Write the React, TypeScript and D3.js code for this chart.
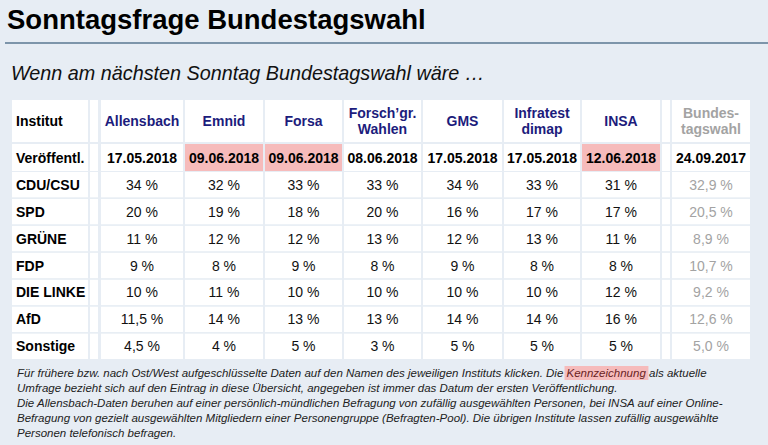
import React, { useEffect, useRef } from "react";
import * as d3 from "d3";

const TITLE = "Sonntagsfrage Bundestagswahl";
const SUBTITLE = "Wenn am nächsten Sonntag Bundestagswahl wäre …";

const institutes = ["Allensbach", "Emnid", "Forsa", "Forsch’gr.|Wahlen", "GMS", "Infratest|dimap", "INSA"];
const pubDates = ["17.05.2018", "09.06.2018", "09.06.2018", "08.06.2018", "17.05.2018", "17.05.2018", "12.06.2018"];
const isCurrent = [false, true, true, false, false, false, true];
const parties = ["CDU/CSU", "SPD", "GRÜNE", "FDP", "DIE LINKE", "AfD", "Sonstige"];

const allensbach = [34, 20, 11, 9, 10, 11.5, 4.5];
const emnid = [32, 19, 12, 8, 11, 14, 4];
const forsa = [33, 18, 12, 9, 10, 13, 5];
const forschungsgruppe = [33, 20, 13, 8, 10, 13, 3];
const gms = [34, 16, 12, 9, 10, 14, 5];
const infratest = [33, 17, 13, 8, 10, 14, 5];
const insa = [31, 17, 11, 8, 12, 16, 5];
const pollValues = [allensbach, emnid, forsa, forschungsgruppe, gms, infratest, insa];

const electionLabel = "Bundes-|tagswahl";
const electionDate = "24.09.2017";
const election2017 = [32.9, 20.5, 8.9, 10.7, 9.2, 12.6, 5.0];

const footnoteLines = [
  ["Für frühere bzw. nach Ost/West aufgeschlüsselte Daten auf den Namen des jeweiligen Instituts klicken. Die ", "Kennzeichnung", " als aktuelle"],
  ["Umfrage bezieht sich auf den Eintrag in diese Übersicht, angegeben ist immer das Datum der ersten Veröffentlichung."],
  ["Die Allensbach-Daten beruhen auf einer persönlich-mündlichen Befragung von zufällig ausgewählten Personen, bei INSA auf einer Online-"],
  ["Befragung von gezielt ausgewählten Mitgliedern einer Personengruppe (Befragten-Pool). Die übrigen Institute lassen zufällig ausgewählte"],
  ["Personen telefonisch befragen."],
];

const W = 768;
const H = 445;
const BG = "#e7edf4";
const NAVY = "#1c1c7c";
const PINK = "#f6bbbb";
const GREY = "#a3a3a3";
const FONT = "'Liberation Sans', Arial, Helvetica, sans-serif";

// column layout (widths), gaps between
const colWidths = [76, 8, 82, 78, 77, 77, 79, 76, 78, 8, 78];
const colGaps = [0, 2, 3, 2, 2, 2, 2, 2, 2, 2, 2];
const tableLeft = 12;

const fmtPoll = (v: number) => String(v).replace(".", ",") + " %";
const fmtElection = (v: number) => v.toFixed(1).replace(".", ",") + " %";

export default function App() {
  const ref = useRef<SVGSVGElement>(null);

  useEffect(() => {
    const svg = d3.select(ref.current);
    svg.selectAll("*").remove();

    svg.append("rect").attr("width", W).attr("height", H).attr("fill", BG);

    svg.append("text").text(TITLE)
      .attr("x", 7).attr("y", 29)
      .attr("font-family", FONT).attr("font-weight", "bold").attr("font-size", 27.5)
      .attr("fill", "#000");

    svg.append("line").attr("x1", 5).attr("x2", W).attr("y1", 43).attr("y2", 43)
      .attr("stroke", "#7d95aa").attr("stroke-width", 2);

    svg.append("text").text(SUBTITLE)
      .attr("x", 11).attr("y", 80)
      .attr("font-family", FONT).attr("font-style", "italic").attr("font-size", 19.8)
      .attr("fill", "#111");

    // columns
    const lefts: number[] = [];
    let cx = tableLeft;
    colWidths.forEach((w, i) => {
      cx += colGaps[i];
      lefts.push(cx);
      cx += w;
    });
    const colCenter = (i: number) => lefts[i] + colWidths[i] / 2;

    // rows
    const headerTop = 100, headerH = 42;
    const dateTop = 144, dateH = 27;
    const y = d3.scaleBand<string>().domain(parties).range([172, 359]).paddingInner(0.06).paddingOuter(0);

    const g = svg.append("g").attr("font-family", FONT).attr("font-size", 14);

    const rowsSpec: { top: number; h: number }[] = [
      { top: headerTop, h: headerH },
      { top: dateTop, h: dateH },
      ...parties.map((p) => ({ top: y(p)!, h: y.bandwidth() })),
    ];

    // white cells
    rowsSpec.forEach((r, ri) => {
      colWidths.forEach((w, ci) => {
        let fill = "#fff";
        const inst = ci - 2;
        if (ri === 1 && inst >= 0 && inst < institutes.length && isCurrent[inst]) fill = PINK;
        g.append("rect").attr("x", lefts[ci]).attr("y", r.top).attr("width", w).attr("height", r.h).attr("fill", fill);
      });
    });

    const multiLine = (label: string, xc: number, top: number, h: number, color: string) => {
      const parts = label.split("|");
      const lh = 16;
      const baseY = top + h / 2 + 5 - ((parts.length - 1) * lh) / 2;
      const t = g.append("text").attr("text-anchor", "middle").attr("font-weight", "bold").attr("fill", color);
      parts.forEach((p, i) => {
        t.append("tspan").attr("x", xc).attr("y", baseY + i * lh).text(p);
      });
    };

    // header row
    g.append("text").text("Institut").attr("x", lefts[0] + 4).attr("y", headerTop + headerH / 2 + 5)
      .attr("font-weight", "bold").attr("fill", "#000");
    institutes.forEach((name, i) => multiLine(name, colCenter(i + 2), headerTop, headerH, NAVY));
    multiLine(electionLabel, colCenter(10), headerTop, headerH, GREY);

    // date row
    g.append("text").text("Veröffentl.").attr("x", lefts[0] + 4).attr("y", dateTop + dateH / 2 + 5)
      .attr("font-weight", "bold").attr("fill", "#000");
    pubDates.forEach((d, i) => {
      g.append("text").text(d).attr("x", colCenter(i + 2)).attr("y", dateTop + dateH / 2 + 5)
        .attr("text-anchor", "middle").attr("font-weight", "bold").attr("fill", "#000");
    });
    g.append("text").text(electionDate).attr("x", colCenter(10)).attr("y", dateTop + dateH / 2 + 5)
      .attr("text-anchor", "middle").attr("font-weight", "bold").attr("fill", "#000");

    // party rows
    parties.forEach((p, pi) => {
      const yc = y(p)! + y.bandwidth() / 2 + 5;
      g.append("text").text(p).attr("x", lefts[0] + 4).attr("y", yc)
        .attr("font-weight", "bold").attr("fill", "#000");
      pollValues.forEach((vals, ii) => {
        g.append("text").text(fmtPoll(vals[pi])).attr("x", colCenter(ii + 2)).attr("y", yc)
          .attr("text-anchor", "middle").attr("fill", "#111");
      });
      g.append("text").text(fmtElection(election2017[pi])).attr("x", colCenter(10)).attr("y", yc)
        .attr("text-anchor", "middle").attr("fill", GREY);
    });

    // footnote
    const fn = svg.append("g").attr("font-family", FONT).attr("font-style", "italic").attr("font-size", 11.5).attr("fill", "#222");
    footnoteLines.forEach((parts, li) => {
      const ty = 377 + li * 15;
      if (parts.length === 1) {
        fn.append("text").attr("x", 17).attr("y", ty).text(parts[0]);
      } else {
        const hl = fn.append("rect").attr("fill", PINK);
        const t = fn.append("text").attr("x", 17).attr("y", ty);
        t.append("tspan").text(parts[0]);
        const mid = t.append("tspan").text(parts[1]).attr("fill", "#6a1f1f");
        t.append("tspan").text(parts[2]);
        const node = mid.node() as SVGTSpanElement;
        try {
          const bb = node.getBBox();
          hl.attr("x", bb.x - 2).attr("y", ty - 11).attr("width", bb.width + 4).attr("height", 14);
        } catch (e) {
          /* ignore */
        }
      }
    });
  }, []);

  return (
    <svg ref={ref} width={W} height={H} style={{ position: "absolute", left: 0, top: 0, display: "block" }} />
  );
}
